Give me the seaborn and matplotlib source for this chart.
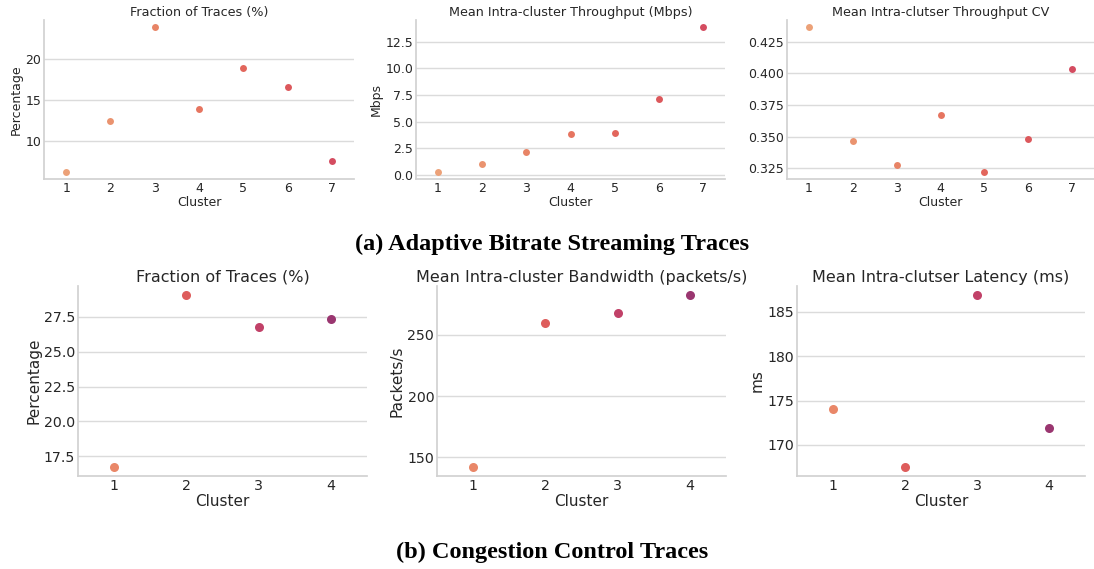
import matplotlib
matplotlib.use("Agg")
import matplotlib.pyplot as plt
from matplotlib.ticker import MultipleLocator, FormatStrFormatter
import seaborn as sns
import numpy as np

# (a) Adaptive bitrate streaming traces, 7 clusters
abr_clusters = [1, 2, 3, 4, 5, 6, 7]
abr_fraction = [6.26, 12.5, 23.9, 13.9, 18.9, 16.66, 7.63]
abr_throughput = [0.28, 1.0, 2.14, 3.83, 3.9, 7.16, 13.88]
abr_cv = [0.4366, 0.3461, 0.3274, 0.3669, 0.3221, 0.3483, 0.4033]

# (b) Congestion control traces, 4 clusters
cc_clusters = [1, 2, 3, 4]
cc_fraction = [16.71, 29.1, 26.76, 27.33]
cc_bandwidth = [141.9, 259.5, 267.7, 282.6]
cc_latency = [174.06, 167.47, 186.95, 171.95]

abr_titles = ["Fraction of Traces (%)", "Mean Intra-cluster Throughput (Mbps)",
              "Mean Intra-clutser Throughput CV"]
abr_ylabels = ["Percentage", "Mbps", ""]
cc_titles = ["Fraction of Traces (%)", "Mean Intra-cluster Bandwidth (packets/s)",
             "Mean Intra-clutser Latency (ms)"]
cc_ylabels = ["Percentage", "Packets/s", "ms"]

sns.set_theme(style="whitegrid")
plt.rcParams["font.family"] = ["DejaVu Sans"]

W, H = 1094, 569
fig = plt.figure(figsize=(W / 100, H / 100), dpi=100)

def px_axes(x0, y0, x1, y1):
    # pixel box (left, top, right, bottom) -> figure fraction
    return fig.add_axes([x0 / W, 1 - y1 / H, (x1 - x0) / W, (y1 - y0) / H])

abr_pal = sns.color_palette("flare", 16)[:7]
cc_pal = sns.color_palette("flare", 5)[:4]

def panel(ax, clusters, vals, pal, title, ylabel, fs_tick, fs_label, fs_title, size):
    sns.stripplot(x=clusters, y=vals, hue=clusters, palette=pal, jitter=False,
                  size=size, legend=False, ax=ax)
    ax.set_title(title, fontsize=fs_title, pad=3, color=".15")
    ax.set_xlabel("Cluster", fontsize=fs_label, labelpad=1, color=".15")
    ax.set_ylabel(ylabel, fontsize=fs_label, labelpad=2, color=".15")
    ax.tick_params(labelsize=fs_tick, pad=2, length=0)
    ax.grid(axis="x", visible=False)
    ax.grid(axis="y", color=".86", linewidth=1)
    sns.despine(ax=ax)
    for s in ["left", "bottom"]:
        ax.spines[s].set_color(".82")
    return ax

top_boxes = [(44, 20, 354, 179), (416, 20, 725, 179), (787, 20, 1094, 179)]
top_axes = []
for box, vals, t, yl in zip(top_boxes, [abr_fraction, abr_throughput, abr_cv],
                            abr_titles, abr_ylabels):
    ax = px_axes(*box)
    top_axes.append(panel(ax, abr_clusters, vals, abr_pal, t, yl, 9, 9, 9.2, 5))
top_axes[2].yaxis.set_major_locator(MultipleLocator(0.025))
top_axes[2].yaxis.set_major_formatter(FormatStrFormatter("%.3f"))

bot_boxes = [(78, 286, 367, 476), (437, 286, 726, 476), (797, 286, 1085, 476)]
for box, vals, t, yl in zip(bot_boxes, [cc_fraction, cc_bandwidth, cc_latency],
                            cc_titles, cc_ylabels):
    ax = px_axes(*box)
    panel(ax, cc_clusters, vals, cc_pal, t, yl, 10.2, 11, 11.5, 6.5)

fig.text(552 / W, 1 - 244 / H, "(a) Adaptive Bitrate Streaming Traces",
         ha="center", va="center", fontsize=17.5, fontweight="bold",
         family="Liberation Serif", color="black")
fig.text(552 / W, 1 - 552 / H, "(b) Congestion Control Traces",
         ha="center", va="center", fontsize=17.5, fontweight="bold",
         family="Liberation Serif", color="black")

fig.savefig("out.png", dpi=100)
